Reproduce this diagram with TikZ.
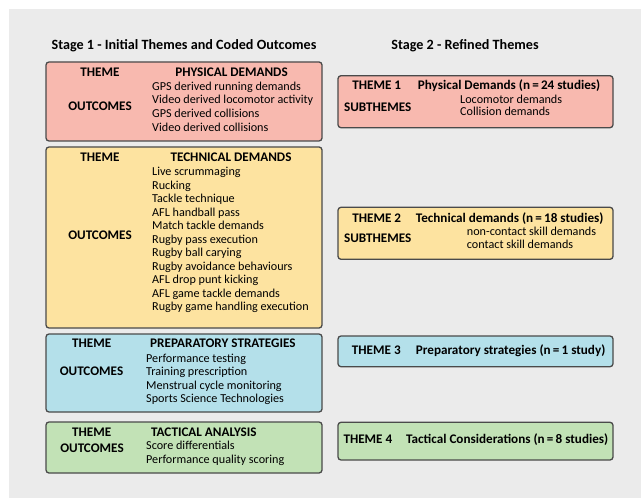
\documentclass[tikz,border=0pt]{standalone}
\usepackage{fontspec}
\setmainfont{Carlito}
\usepackage{xcolor}
\usepackage{tikz}
\usetikzlibrary{calc}
\definecolor{bggray}{HTML}{EBEBEB}
\definecolor{pinkfill}{HTML}{F8B9AF}
\definecolor{yellowfill}{HTML}{FDE3A0}
\definecolor{bluefill}{HTML}{B4E0EA}
\definecolor{greenfill}{HTML}{C2E2B6}
\definecolor{edgegray}{HTML}{4A4A4A}
\tikzset{box/.style={draw=edgegray,line width=1.3bp,rounded corners=3bp}}

\begin{document}
\begin{tikzpicture}[x=1bp,y=-1bp,every node/.style={inner sep=0pt,text height=1.8ex,text depth=.2ex,font=\fontsize{12.2}{14}\selectfont},
  head/.style={font=\fontsize{13.2}{15}\selectfont\bfseries},
  title/.style={font=\fontsize{14.2}{16}\selectfont\bfseries},
  item/.style={anchor=west}]

\useasboundingbox (0,0) rectangle (641,498);
\fill[bggray] (9,9) rectangle (641,498);

% stage titles
\draw node[title] at (184,45.5) (s1) {Stage 1 - Initial Themes and Coded Outcomes};
\draw node[title] at (465,45.5) (s2) {Stage 2 - Refined Themes};

% stage 1 boxes
\draw[box,fill=pinkfill] (46,62) rectangle (322,141);
\draw[box,fill=yellowfill] (46,147) rectangle (322,328);
\draw[box,fill=bluefill] (46,334) rectangle (322,412);
\draw[box,fill=greenfill] (46,422) rectangle (322,473);

% physical demands
\draw node[head] at (100,73) (th1) {THEME};
\draw node[head] at (100,106.7) (oc1) {OUTCOMES};
\draw node[head] at (231.5,73) (ph) {PHYSICAL DEMANDS};
\foreach \txt [count=\i] in {GPS derived running demands,Video derived locomotor activity,GPS derived collisions,Video derived collisions}
  \draw node[item] at (152,{86.3+13.7*(\i-1)}) (ph\i) {\txt};

% technical demands
\draw node[head] at (100,157.3) (th2) {THEME};
\draw node[head] at (100,236) (oc2) {OUTCOMES};
\draw node[head] at (231,157.3) (te) {TECHNICAL DEMANDS};
\foreach \txt [count=\i] in {Live scrummaging,Rucking,Tackle technique,AFL handball pass,Match tackle demands,Rugby pass execution,Rugby ball carying,Rugby avoidance behaviours,AFL drop punt kicking,AFL game tackle demands,Rugby game handling execution}
  \draw node[item] at (152,{171.7+13.5*(\i-1)}) (te\i) {\txt};

% preparatory strategies
\draw node[head] at (91.7,343.3) (th3) {THEME};
\draw node[head] at (91.5,371.7) (oc3) {OUTCOMES};
\draw node[head,anchor=west] at (150,343.3) (pr) {PREPARATORY STRATEGIES};
\foreach \txt [count=\i] in {Performance testing,Training prescription,Menstrual cycle monitoring,Sports Science Technologies}
  \draw node[item] at (146,{358.3+13.5*(\i-1)}) (pr\i) {\txt};

% tactical analysis
\draw node[head] at (91.7,432.7) (th4) {THEME};
\draw node[head] at (92,449) (oc4) {OUTCOMES};
\draw node[head,anchor=west] at (151,432.7) (ta) {TACTICAL ANALYSIS};
\foreach \txt [count=\i] in {Score differentials,Performance quality scoring}
  \draw node[item] at (146,{445.5+14*(\i-1)}) (ta\i) {\txt};

% stage 2 boxes
\draw[box,fill=pinkfill] (338,75.7) rectangle (613,127.7);
\draw[box,fill=yellowfill] (338,207.3) rectangle (613,259.3);
\draw[box,fill=bluefill] (338,336) rectangle (613,366.7);
\draw[box,fill=greenfill] (338,422.3) rectangle (613,460);

\draw node[head] at (376.7,86) (r1) {THEME 1};
\draw node[head,anchor=west] at (417.7,86) (r1t) {Physical Demands (n\,=\,24 studies)};
\draw node[head] at (377.7,107.3) (r1s) {SUBTHEMES};
\draw node[item] at (460,100) (r1a) {Locomotor demands};
\draw node[item] at (460,111.7) (r1b) {Collision demands};

\draw node[head] at (376.7,218.3) (r2) {THEME 2};
\draw node[head,anchor=west] at (415.7,218.3) (r2t) {Technical demands (n\,=\,18 studies)};
\draw node[head] at (377.7,239) (r2s) {SUBTHEMES};
\draw node[item] at (466.7,232) (r2a) {non-contact skill demands};
\draw node[item] at (466.7,245) (r2b) {contact skill demands};

\draw node[head,anchor=west] at (351.7,351) (r3) {THEME 3};
\draw node[head,anchor=west] at (415.7,351) (r3t) {Preparatory strategies (n\,=\,1 study)};

\draw node[head,anchor=west] at (343.3,439.3) (r4) {THEME 4};
\draw node[head,anchor=west] at (406,439.3) (r4t) {Tactical Considerations (n\,=\,8 studies)};

\end{tikzpicture}
\end{document}
